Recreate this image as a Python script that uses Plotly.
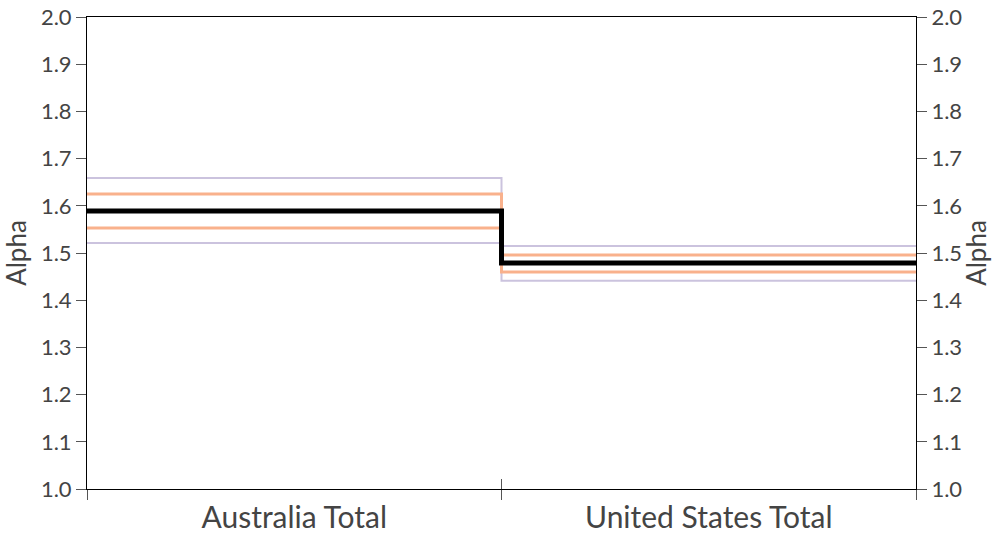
import plotly.graph_objects as go

# Regions shown along the x axis
categories = ["Australia Total", "United States Total"]

# Alpha estimate and its two confidence bands per region
alpha = [1.589, 1.479]
band_inner_hi = [1.625, 1.496]
band_inner_lo = [1.553, 1.460]
band_outer_hi = [1.659, 1.515]
band_outer_lo = [1.521, 1.441]

y_ticks = [1.0, 1.1, 1.2, 1.3, 1.4, 1.5, 1.6, 1.7, 1.8, 1.9, 2.0]

# Each region occupies one unit along x; step edges sit at 0, 1, 2
edges = list(range(len(categories) + 1))
centers = [i + 0.5 for i in range(len(categories))]


def step(vals):
    return vals + [vals[-1]]


PURPLE = "#cbc3de"
ORANGE = "#f9b18c"
FONT = "Lato, 'Open Sans', sans-serif"
TXT = "#444444"

fig = go.Figure()
for vals, color, width in [
    (band_outer_hi, PURPLE, 2),
    (band_outer_lo, PURPLE, 2),
    (band_inner_hi, ORANGE, 3),
    (band_inner_lo, ORANGE, 3),
    (alpha, "black", 5),
]:
    fig.add_trace(go.Scatter(
        x=edges, y=step(vals), mode="lines", line_shape="hv",
        line=dict(color=color, width=width), showlegend=False,
        hoverinfo="skip",
    ))

# invisible trace anchoring the overlay axes
fig.add_trace(go.Scatter(x=[0, 2], y=[1, 1], xaxis="x2", yaxis="y2",
                         mode="lines", line=dict(width=0), showlegend=False,
                         hoverinfo="skip"))

axis_common = dict(showgrid=False, zeroline=False, showline=True,
                   linecolor="black", linewidth=1, automargin=False)

yaxis_common = dict(
    **axis_common, range=[1.0, 2.0],
    tickmode="array", tickvals=y_ticks, tickformat=".1f",
    ticks="outside", ticklen=10, tickcolor="#555555",
    tickfont=dict(size=22, color=TXT),
    title=dict(text="Alpha", font=dict(size=26, color=TXT), standoff=12),
)

fig.update_layout(
    width=992, height=535,
    margin=dict(l=87, r=76, t=17, b=46),
    plot_bgcolor="white", paper_bgcolor="white",
    font=dict(family=FONT, color=TXT),
    xaxis=dict(
        **axis_common, range=[0, 2], mirror=True,
        tickmode="array", tickvals=centers, ticktext=categories,
        ticks="", tickfont=dict(size=30, color=TXT), ticklabelstandoff=2,
        minor=dict(tickmode="array", tickvals=edges, ticks="outside",
                   ticklen=10, tickcolor="#555555", tickwidth=1),
    ),
    xaxis2=dict(
        range=[0, 2], overlaying="x", anchor="y", side="bottom",
        showgrid=False, zeroline=False, showline=False, automargin=False,
        tickmode="array", tickvals=edges, ticks="inside", ticklen=10,
        tickcolor="#555555", showticklabels=False,
    ),
    yaxis=dict(**yaxis_common),
    yaxis2=dict(**yaxis_common, overlaying="y", side="right", anchor="x"),
)

fig.write_html("out.html")
